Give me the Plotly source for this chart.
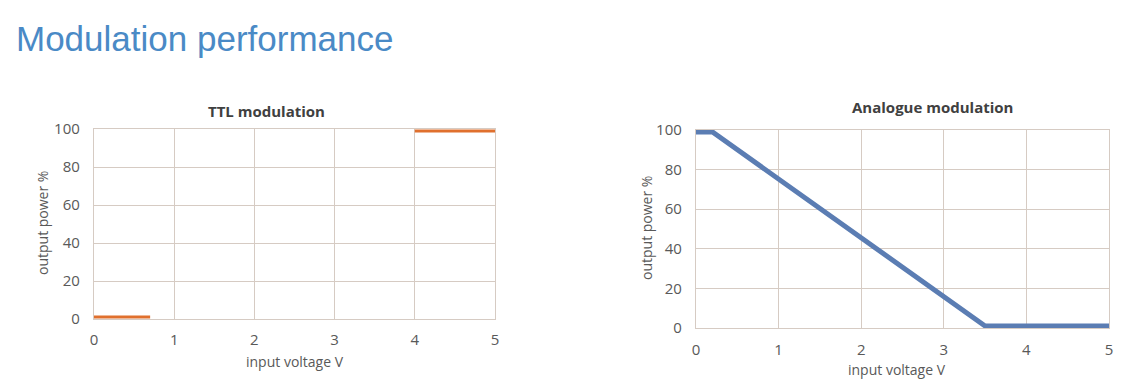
import plotly.graph_objects as go

# TTL modulation data
ttl_low_x = [0, 0.7]
ttl_low_y = [1, 1]
ttl_high_x = [4, 5]
ttl_high_y = [99, 99]

# Analogue modulation data
ana_x = [0, 0.2, 3.5, 5]
ana_y = [99, 99, 1, 1]

x_ticks = [0, 1, 2, 3, 4, 5]
y_ticks = [0, 20, 40, 60, 80, 100]

W, H = 1126, 388
OFF = 8  # page body margin
grid_c = "#d6cbc3"
txt_c = "#595959"
font_fam = "Open Sans, Liberation Sans, sans-serif"

fig = go.Figure()
fig.add_trace(go.Scatter(x=ttl_low_x, y=ttl_low_y, mode="lines",
                         line=dict(color="#e0702e", width=3), xaxis="x", yaxis="y", showlegend=False))
fig.add_trace(go.Scatter(x=ttl_high_x, y=ttl_high_y, mode="lines",
                         line=dict(color="#e0702e", width=3), xaxis="x", yaxis="y", showlegend=False))
fig.add_trace(go.Scatter(x=ana_x, y=ana_y, mode="lines",
                         line=dict(color="#5b7db3", width=5), xaxis="x2", yaxis="y2", showlegend=False))


def px_x(p):
    return (p - OFF) / W


def px_y(p):
    return 1 - (p - OFF) / H


axis_common = dict(showgrid=True, gridcolor=grid_c, gridwidth=1.3, showline=True, linecolor=grid_c,
                   linewidth=1.3, mirror=True, zeroline=False, automargin=False,
                   tickfont=dict(size=15, color=txt_c, family=font_fam),
                   ticks="outside", tickcolor="rgba(0,0,0,0)", fixedrange=True)

ann_font = dict(size=14, color=txt_c, family=font_fam)
ttl_font = dict(size=15, color="#404040", family=font_fam)

fig.update_layout(
    width=W, height=H, margin=dict(l=0, r=0, t=0, b=0),
    paper_bgcolor="white", plot_bgcolor="white",
    xaxis=dict(domain=[px_x(94), px_x(495)], range=[0, 5], tickvals=x_ticks, anchor="y",
               ticklen=7, **axis_common),
    yaxis=dict(domain=[px_y(319), px_y(129)], range=[0, 100], tickvals=y_ticks, anchor="x",
               ticklen=10, **axis_common),
    xaxis2=dict(domain=[px_x(696), px_x(1109)], range=[0, 5], tickvals=x_ticks, anchor="y2",
                ticklen=8, **axis_common),
    yaxis2=dict(domain=[px_y(328), px_y(130)], range=[0, 100], tickvals=y_ticks, anchor="x2",
                ticklen=10, **axis_common),
    annotations=[
        dict(text="Modulation performance", x=px_x(14), y=px_y(39), xref="paper", yref="paper",
             xanchor="left", yanchor="middle", showarrow=False,
             font=dict(size=35, color="#4a8ac6", family="Liberation Sans, Arial, sans-serif")),
        dict(text="<b>TTL modulation</b>", x=px_x(266), y=px_y(111), xref="paper", yref="paper",
             xanchor="center", yanchor="middle", showarrow=False, font=ttl_font),
        dict(text="<b>Analogue modulation</b>", x=px_x(932), y=px_y(107), xref="paper", yref="paper",
             xanchor="center", yanchor="middle", showarrow=False, font=ttl_font),
        dict(text="input voltage V", x=px_x(295), y=px_y(361), xref="paper", yref="paper",
             xanchor="center", yanchor="middle", showarrow=False, font=ann_font),
        dict(text="input voltage V", x=px_x(897), y=px_y(369), xref="paper", yref="paper",
             xanchor="center", yanchor="middle", showarrow=False, font=ann_font),
        dict(text="output power %", x=px_x(42), y=px_y(223), xref="paper", yref="paper",
             xanchor="center", yanchor="middle", showarrow=False, textangle=-90, font=ann_font),
        dict(text="output power %", x=px_x(646), y=px_y(228), xref="paper", yref="paper",
             xanchor="center", yanchor="middle", showarrow=False, textangle=-90, font=ann_font),
    ],
)

fig.write_html("out.html")
